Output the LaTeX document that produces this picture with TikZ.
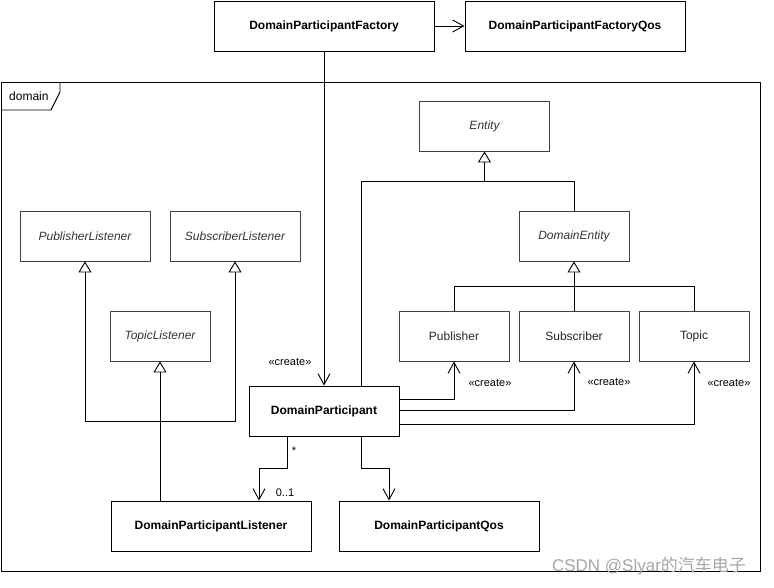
\documentclass[tikz,border=0pt]{standalone}
\usepackage{fontspec}
\setmainfont{Liberation Sans}
\newfontfamily\cjkfont{Noto Sans CJK SC}
\usetikzlibrary{arrows.meta}

\tikzset{
    classbox/.style={draw=black, line width=0.9pt, minimum width=220pt, minimum height=50pt, inner sep=0pt, font=\bfseries\fontsize{12}{14}\selectfont},
    abstractbox/.style={draw=black!75, line width=0.9pt, minimum width=130pt, minimum height=50pt, inner sep=0pt, text=black!80, font=\itshape\fontsize{12}{14}\selectfont},
    plainbox/.style={draw=black!75, line width=0.9pt, minimum width=110pt, minimum height=50pt, inner sep=0pt, text=black!85, font=\fontsize{12}{14}\selectfont},
    inherit/.style={line width=0.9pt, -{Triangle[open, length=11pt, width=13pt]}},
    assoc/.style={line width=0.9pt, -{Straight Barb[length=11pt, width=12pt]}},
    lbl/.style={font=\fontsize{11}{13}\selectfont, inner sep=0pt}
}

\begin{document}
\begin{tikzpicture}[x=1pt, y=-1pt]
    \useasboundingbox (0,0) rectangle (774,587);

    % frame
    \draw[line width=0.9pt] (1,82) rectangle (760,571);
    \draw[line width=0.9pt] (60,82) -- (60,92) -- (51,110) -- (1,110);
    \node[lbl, font=\fontsize{12}{14}\selectfont, anchor=west] (frame) at (9,96) {domain};

    % classes
    \node[classbox] (factory) at (324,26) {DomainParticipantFactory};
    \node[classbox] (factoryqos) at (575,26) {DomainParticipantFactoryQos};

    \node[abstractbox] (entity) at (484.5,126) {Entity};
    \node[abstractbox, minimum width=110pt] (dentity) at (574,236) {DomainEntity};
    \node[abstractbox] (publ) at (85,236) {PublisherListener};
    \node[abstractbox] (subl) at (235,236) {SubscriberListener};
    \node[abstractbox, minimum width=100pt] (topl) at (160,336) {TopicListener};

    \node[plainbox] (pub) at (454,336) {Publisher};
    \node[plainbox] (sub) at (574,336) {Subscriber};
    \node[plainbox] (topic) at (694,336) {Topic};

    \node[classbox, minimum width=150pt] (dp) at (324,411) {DomainParticipant};
    \node[classbox, minimum width=200pt] (dpl) at (211,526) {DomainParticipantListener};
    \node[classbox, minimum width=200pt] (dpqos) at (439,526) {DomainParticipantQos};

    % factory
    \draw[assoc] (factory.east) -- (factoryqos.west);
    \draw[assoc] (factory.south) -- (dp.north);
    \node[lbl] (c0) at (290,362) {«create»};

    % entity tree
    \draw[inherit] (dp.north -| 361,0) |- (484.5,181) -- (entity.south);
    \draw[line width=0.9pt] (dentity.north) |- (484.5,181);
    \draw[inherit] (sub.north) -- (dentity.south);
    \draw[line width=0.9pt] (pub.north) |- (topic.north |- 0,286) -- (topic.north);

    % listeners
    \draw[inherit] (dpl.north -| 160,0) -- (topl.south);
    \draw[inherit] (160,421) -| (publ.south);
    \draw[inherit] (160,421) -| (subl.south);

    % create
    \draw[assoc] (dp.east |- 0,399) -| (pub.south);
    \draw[assoc] (dp.east |- 0,410) -| (sub.south);
    \draw[assoc] (dp.east |- 0,424) -| (topic.south);
    \node[lbl] (c1) at (490,383) {«create»};
    \node[lbl] (c2) at (609,382) {«create»};
    \node[lbl] (c3) at (729,383) {«create»};

    % participant links
    \draw[assoc] (dp.south -| 287,0) -- (287,468) -| (dpl.north -| 259,0);
    \node[lbl] (m1) at (294,451) {*};
    \node[lbl] (m2) at (285,493) {0..1};
    \draw[assoc] (dp.south -| 361,0) -- (361,468) -| (dpqos.north -| 389,0);

    % watermark
    \node[lbl, text=black!35, font=\fontsize{17}{19}\selectfont] (wm) at (649,566) {CSDN @Slyar{\cjkfont 的汽车电子}};
\end{tikzpicture}
\end{document}
